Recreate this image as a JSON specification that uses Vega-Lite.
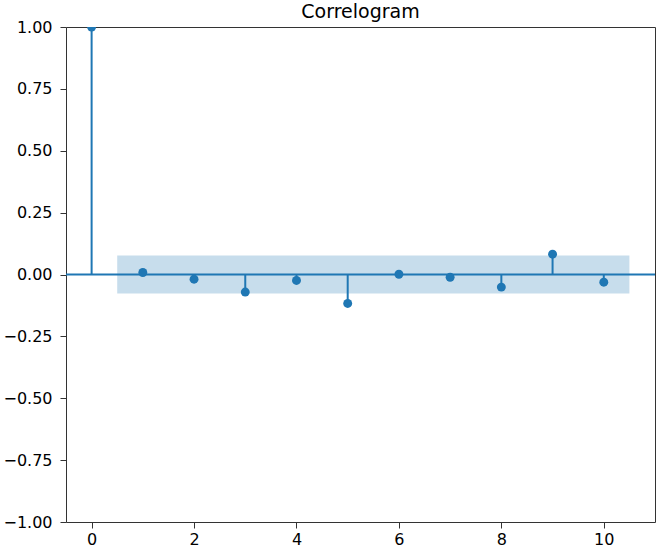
{
  "$schema": "https://vega.github.io/schema/vega-lite/v6.json",
  "autosize": "none",
  "width": 589,
  "height": 495,
  "padding": {"left": 66, "top": 27, "right": 1, "bottom": 27},
  "background": "white",
  "title": {"text": "Correlogram", "font": "DejaVu Sans", "fontSize": 19, "fontWeight": "normal", "color": "#000", "offset": 0, "dy": 3},
  "config": {
    "view": {"stroke": "#333", "strokeWidth": 1},
    "axis": {
      "labelFont": "DejaVu Sans", "labelFontSize": 16, "labelColor": "#000",
      "tickColor": "#333", "tickSize": 6, "domain": false, "grid": false,
      "title": null
    },
    "axisX": {"labelPadding": 3},
    "axisY": {"labelPadding": 8}
  },
  "datasets": {
    "acf": [
      {"lag": 0, "acf": 1.0},
      {"lag": 1, "acf": 0.008},
      {"lag": 2, "acf": -0.019},
      {"lag": 3, "acf": -0.071},
      {"lag": 4, "acf": -0.024},
      {"lag": 5, "acf": -0.117},
      {"lag": 6, "acf": 0.001},
      {"lag": 7, "acf": -0.011},
      {"lag": 8, "acf": -0.051},
      {"lag": 9, "acf": 0.082},
      {"lag": 10, "acf": -0.031}
    ],
    "band": [{"x": 0.5, "x2": 10.5, "lo": -0.077, "hi": 0.077}],
    "zero": [{"z": 0}]
  },
  "layer": [
    {
      "data": {"name": "acf"},
      "mark": {"type": "rule", "color": "#1f77b4", "strokeWidth": 2},
      "encoding": {
        "x": {"field": "lag", "type": "quantitative", "scale": {"domain": [-0.5, 11], "nice": false, "zero": false},
              "axis": {"values": [0, 2, 4, 6, 8, 10], "format": "d"}},
        "y": {"field": "acf", "type": "quantitative", "scale": {"domain": [-1, 1], "nice": false},
              "axis": {"values": [-1, -0.75, -0.5, -0.25, 0, 0.25, 0.5, 0.75, 1], "format": ".2f"}},
        "y2": {"datum": 0}
      }
    },
    {
      "data": {"name": "zero"},
      "mark": {"type": "rule", "color": "#1f77b4", "strokeWidth": 2},
      "encoding": {
        "y": {"field": "z", "type": "quantitative"}
      }
    },
    {
      "data": {"name": "acf"},
      "mark": {"type": "point", "filled": true, "color": "#1f77b4", "opacity": 1, "size": 80, "clip": true},
      "encoding": {
        "x": {"field": "lag", "type": "quantitative"},
        "y": {"field": "acf", "type": "quantitative"}
      }
    },
    {
      "data": {"name": "band"},
      "mark": {"type": "rect", "color": "#1f77b4", "opacity": 0.25},
      "encoding": {
        "x": {"field": "x", "type": "quantitative"},
        "x2": {"field": "x2"},
        "y": {"field": "lo", "type": "quantitative"},
        "y2": {"field": "hi"}
      }
    }
  ]
}
